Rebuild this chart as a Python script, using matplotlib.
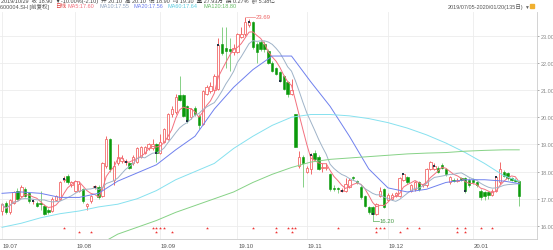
import numpy as np
import pandas as pd
import matplotlib
matplotlib.use("Agg")
import matplotlib.pyplot as plt
import matplotlib.transforms as mtransforms

plt.rcParams['font.family'] = ['Liberation Sans', 'Noto Sans CJK SC', 'DejaVu Sans']

# daily OHLC, 600004.SH, 2019/07/05 - 2020/01/20 (135 days)
opens = [16.55, 16.85, 16.5, 16.85, 17.3, 17.1, 17.35, 17.2, 16.9, 16.85,
         16.85, 16.75, 16.6, 16.55, 16.95, 17.0, 17.7, 17.85, 17.5, 17.3,
         17.3, 17.35, 16.75, 16.9, 17.45, 17.45, 17.1, 18.2, 19.2, 17.7,
         18.3, 18.4, 18.35, 18.3, 18.3, 18.35, 18.55, 18.7, 18.85, 18.85,
         19.0, 18.7, 19.1, 19.2, 20.1, 20.2, 20.8, 20.8, 20.4, 20.0,
         20.35, 20.05, 19.75, 20.85, 20.95, 21.0, 21.05, 22.7, 22.55, 22.5,
         22.4, 22.4, 22.95, 23.05, 23.4, 23.5, 22.7, 22.75, 22.7, 22.45,
         22.0, 21.8, 21.65, 21.5, 21.3, 20.85, 20.1, 18.2, 18.55, 18.0,
         18.1, 18.7, 18.55, 18.15, 18.15, 17.9, 17.4, 17.4, 17.3, 17.3,
         17.45, 17.8, 17.65, 17.45, 17.1, 16.7, 16.7, 16.45, 17.1, 17.35,
         16.95, 17.0, 17.1, 17.1, 17.7, 17.8, 17.3, 17.35, 17.6, 17.5,
         17.5, 18.1, 18.1, 18.15, 18.25, 18.1, 17.6, 17.7, 17.65, 17.75,
         17.75, 17.7, 17.7, 17.6, 17.3, 17.25, 17.25, 17.15, 17.3, 17.6,
         18.0, 17.95, 17.75, 17.7, 17.65]
highs = [16.85, 16.9, 17.0, 17.3, 17.4, 17.5, 17.45, 17.25, 17.0, 16.9,
         17.3, 16.8, 16.65, 17.05, 17.15, 17.65, 17.85, 17.9, 17.65, 17.7,
         17.65, 17.4, 16.85, 17.15, 17.5, 17.5, 18.35, 19.3, 19.25, 18.4,
         19.0, 18.6, 18.45, 18.35, 18.6, 18.9, 18.95, 18.95, 19.05, 19.2,
         19.05, 19.4, 19.6, 20.15, 20.4, 20.85, 21.5, 20.85, 20.45, 20.35,
         20.4, 20.1, 21.0, 21.2, 21.3, 21.6, 22.9, 23.3, 23.3, 22.9,
         22.7, 23.1, 23.3, 23.69, 23.6, 23.55, 22.75, 22.85, 22.8, 22.5,
         22.05, 21.85, 21.7, 21.55, 21.35, 21.4, 20.1, 18.75, 18.6, 18.2,
         18.7, 18.8, 18.6, 18.3, 18.3, 17.95, 17.5, 17.45, 17.4, 17.75,
         17.75, 17.85, 17.7, 17.5, 17.15, 16.75, 16.75, 16.85, 17.45, 17.4,
         17.2, 17.2, 17.25, 17.8, 17.95, 17.85, 17.55, 17.65, 17.65, 17.55,
         18.15, 18.4, 18.3, 18.2, 18.3, 18.15, 17.85, 17.75, 17.75, 17.8,
         17.8, 17.75, 17.75, 17.65, 17.35, 17.3, 17.3, 17.35, 17.85, 18.35,
         18.05, 18.0, 17.8, 17.75, 17.7]
lows = [16.4, 16.45, 16.45, 16.8, 16.95, 17.05, 17.05, 16.85, 16.8, 16.7,
        16.6, 16.4, 16.45, 16.5, 16.9, 16.95, 17.6, 17.55, 17.45, 17.25,
        17.25, 16.85, 16.6, 16.85, 17.35, 17.0, 17.05, 18.15, 18.0, 17.5,
        18.25, 18.3, 18.25, 18.1, 18.25, 18.3, 18.5, 18.65, 18.8, 18.8,
        18.35, 18.65, 19.05, 19.15, 20.0, 20.1, 20.6, 20.0, 19.8, 19.95,
        20.05, 19.55, 19.7, 20.8, 20.9, 20.95, 21.0, 22.3, 21.8, 21.7,
        22.3, 22.35, 22.9, 23.0, 23.3, 22.5, 22.0, 22.45, 22.4, 21.95,
        21.65, 21.55, 21.3, 21.0, 20.75, 20.8, 18.9, 18.15, 17.45, 17.95,
        17.9, 18.4, 18.05, 18.0, 18.05, 17.3, 17.3, 17.2, 17.25, 17.25,
        17.4, 17.7, 17.55, 17.0, 16.7, 16.45, 16.2, 16.4, 17.05, 16.65,
        16.9, 16.95, 17.05, 17.05, 17.65, 17.55, 17.25, 17.3, 17.3, 17.45,
        17.45, 18.05, 18.05, 17.95, 18.1, 17.85, 17.55, 17.6, 17.6, 17.65,
        17.2, 17.45, 17.55, 17.45, 16.95, 16.95, 17.0, 17.1, 17.25, 17.55,
        17.8, 17.7, 17.65, 17.6, 16.75]
closes = [16.8, 16.5, 16.95, 17.25, 17.0, 17.45, 17.1, 16.9, 16.9, 16.75,
          16.8, 16.45, 16.5, 17.0, 17.1, 17.6, 17.72, 17.6, 17.6, 17.65,
          17.55, 16.9, 16.8, 17.1, 17.45, 17.05, 18.3, 19.2, 18.1, 18.2,
          18.55, 18.5, 18.35, 18.15, 18.55, 18.85, 18.9, 18.9, 19.0, 19.0,
          18.7, 19.1, 19.55, 20.1, 20.3, 20.75, 20.65, 20.05, 19.85, 20.3,
          20.1, 19.7, 20.95, 21.1, 21.15, 21.5, 22.65, 22.35, 22.45, 22.45,
          22.55, 23.05, 23.05, 23.5, 23.5, 22.6, 22.4, 22.5, 22.5, 22.0,
          21.7, 21.6, 21.35, 21.05, 20.85, 21.0, 18.9, 18.55, 18.3, 18.15,
          18.6, 18.45, 18.1, 18.15, 18.15, 17.35, 17.35, 17.35, 17.3, 17.55,
          17.7, 17.75, 17.6, 17.05, 16.75, 16.5, 16.45, 16.8, 17.3, 16.7,
          17.15, 17.15, 17.2, 17.75, 17.9, 17.6, 17.5, 17.6, 17.35, 17.5,
          18.1, 18.35, 18.2, 18.0, 18.15, 17.9, 17.8, 17.65, 17.7, 17.7,
          17.3, 17.5, 17.6, 17.5, 17.05, 17.1, 17.15, 17.3, 17.8, 18.1,
          17.85, 17.75, 17.7, 17.65, 17.1]

# longer moving averages every 5 days
ma_idx = [0, 5, 10, 15, 20, 25, 30, 35, 40, 45, 50, 55, 60, 65, 70, 75, 80,
          85, 90, 95, 100, 105, 110, 115, 120, 125, 130, 134]
ma20 = [17.2, 17.25, 17.2, 17.05, 17.05, 17.2, 17.65, 17.95, 18.25, 18.8,
        19.3, 20.3, 21.1, 21.75, 22.25, 22.25, 21.3, 20.4, 19.3, 18.1,
        17.4, 17.25, 17.35, 17.6, 17.7, 17.7, 17.65, 17.56]
ma60 = [15.95, 16.1, 16.3, 16.45, 16.55, 16.7, 16.8, 17.0, 17.3, 17.7,
        18.0, 18.3, 18.85, 19.3, 19.7, 20.0, 20.1, 20.1, 20.05, 19.95,
        19.8, 19.6, 19.35, 19.05, 18.7, 18.3, 17.85, 17.64]
ma120 = [13.9, 14.1, 14.3, 14.55, 14.8, 15.3, 15.7, 15.95, 16.2, 16.5,
         16.75, 17.0, 17.25, 17.6, 17.9, 18.15, 18.35, 18.45, 18.5, 18.55,
         18.6, 18.65, 18.68, 18.7, 18.75, 18.78, 18.8, 18.8]

month_labels = ['19.07', '19.08', '19.09', '19.10', '19.11', '19.12', '20.01']
month_idx = [0, 19, 41, 61, 79, 100, 122]

sig_top = [16, 39, 40, 41, 42, 53, 65, 71, 74, 75, 76, 87, 97, 98, 99, 105,
           108, 118, 120, 124, 127]
sig_bot = [20, 23, 40, 44, 71, 75, 97, 103, 118, 120]
dot_idx = [8, 16, 24, 32, 40, 48, 56, 64, 72, 80, 88, 96, 104, 112, 120, 128]

df = pd.DataFrame({'open': opens, 'high': highs, 'low': lows, 'close': closes})
df['ma5'] = df['close'].rolling(5, min_periods=1).mean()
df['ma10'] = df['close'].rolling(10, min_periods=1).mean()
x = np.arange(len(df))

W, H = 553, 251
fig = plt.figure(figsize=(W / 100, H / 100), dpi=100)
ax = fig.add_axes([0, 11 / H, 537 / W, 227 / H])

up = df['close'] >= df['open']
dn = ~up
red = '#f26a6a'
green_body = '#0b9a0b'
green_wick = '#86d086'

ax.vlines(x[up], df['low'][up], df['high'][up], color=red, lw=0.7, zorder=2)
ax.vlines(x[dn], df['low'][dn], df['high'][dn], color=green_wick, lw=0.7, zorder=2)
h = (df['close'] - df['open']).abs().clip(lower=0.025)
bottom = df[['open', 'close']].min(axis=1)
ax.bar(x[up], h[up], bottom=bottom[up], width=0.62, facecolor='white',
       edgecolor=red, linewidth=0.6, zorder=3)
ax.bar(x[dn], h[dn], bottom=bottom[dn], width=0.62, facecolor=green_body,
       edgecolor=green_body, linewidth=0.4, zorder=3)

ax.plot(x, df['ma5'], color='#f3707e', lw=0.7, zorder=4)
ax.plot(x, df['ma10'], color='#9fb3c8', lw=0.7, zorder=4)
ax.plot(ma_idx, ma20, color='#6f80ee', lw=0.7, zorder=4)
ax.plot(ma_idx, ma60, color='#86e1ef', lw=0.7, zorder=4)
ax.plot(ma_idx, ma120, color='#86d286', lw=0.7, zorder=4)

ax.scatter(dot_idx, df['close'].iloc[dot_idx], marker='s', s=3,
           color='#223344', zorder=5, linewidths=0)

trans = mtransforms.blended_transform_factory(ax.transData, ax.transAxes)
ax.scatter(sig_top, [0.048] * len(sig_top), marker='*', s=5, color='#ee3333',
           transform=trans, zorder=5, linewidths=0)
ax.scatter(sig_bot, [0.031] * len(sig_bot), marker='*', s=5, color='#ee3333',
           transform=trans, zorder=5, linewidths=0)

# extreme labels
ax.plot([63.3, 65.5], [23.69, 23.69], color='#f08080', lw=0.5, zorder=5)
ax.text(65.6, 23.69, '23.69', fontsize=4.3, color='#ee6666', va='center',
        ha='left', zorder=6)
ax.plot([96, 97.6], [16.2, 16.2], color='#55aa55', lw=0.5, zorder=5)
ax.text(97.7, 16.2, '16.20', fontsize=4.3, color='#449944', va='center',
        ha='left', zorder=6)

ax.set_xlim(-0.52, 138.6)
ax.set_ylim(15.52, 23.87)
ax.set_yticks(np.arange(16, 24, 1))
ax.set_yticklabels(['%.2f' % v for v in np.arange(16, 24, 1)])
ax.yaxis.tick_right()
ax.tick_params(axis='y', labelsize=4.0, colors='#888888', length=1.5,
               width=0.5, pad=0.8)
ax.set_xticks(month_idx)
ax.set_xticklabels([])
ax.tick_params(axis='x', length=0)
ax.grid(True, color='#ececec', lw=0.6, zorder=0)
for s in ['top', 'left']:
    ax.spines[s].set_visible(False)
ax.spines['right'].set_color('#cccccc')
ax.spines['bottom'].set_color('#cccccc')
ax.spines['right'].set_linewidth(0.6)
ax.spines['bottom'].set_linewidth(0.6)

for lab, mi in zip(month_labels, month_idx):
    ax.text(mi + 0.2, -0.018, lab, transform=trans, fontsize=4.3,
            color='#555555', ha='left', va='top')

# header, positions in pixels from the left
def px(xp):
    return xp / W

def py(yp):
    return 1 - yp / H

fig.text(px(1), py(1), '2019/10/29  收 18.90  ▼-10.00%(-2.10)  开 20.10  高 20.10  低 18.90  均 19.30  量 27.93万  换 0.27%  额 5.38亿',
         fontsize=4.0, color='#444444', ha='left', va='center')
parts = [('600004.SH [前复权]', '#555555'), ('日线', '#e04040'),
         ('MA5:17.60', '#f3707e'), ('MA10:17.55', '#8fa3c0'),
         ('MA20:17.56', '#6f80ee'), ('MA60:17.64', '#5fcde0'),
         ('MA120:18.80', '#66bb66')]
xpos = [0, 55, 67, 100, 133, 168, 203]
for (t, c), xp in zip(parts, xpos):
    fig.text(px(xp), py(7), t, fontsize=4.0, color=c, ha='left', va='center')
fig.text(px(523), py(7), '2019/07/05-2020/01/20(135日)', fontsize=4.0,
         color='#555555', ha='right', va='center')
fig.text(px(524), py(7), '▼', fontsize=3.5, color='#666666', ha='left',
         va='center')
fig.patches.append(plt.Rectangle((px(530), py(9)), 4 / W, 4 / H,
                                 transform=fig.transFigure, color='#f0b030'))

fig.savefig('out.png', dpi=100)
